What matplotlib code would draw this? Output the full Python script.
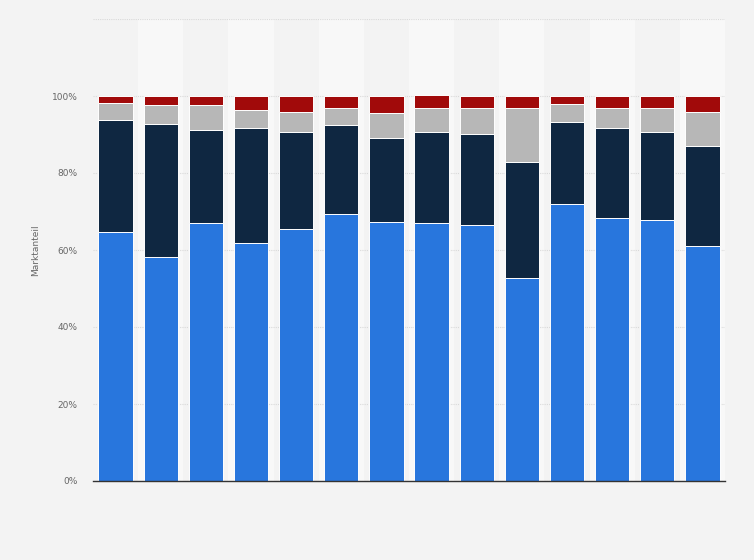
import matplotlib
matplotlib.use("Agg")
import matplotlib.pyplot as plt
import numpy as np

# data (share in %)
categories = [str(i) for i in range(1, 15)]
blue = [64.7, 58.2, 67.0, 61.8, 65.5, 69.4, 67.3, 67.0, 66.4, 52.6, 71.9, 68.4, 67.8, 61.0]
navy = [29.0, 34.4, 24.2, 30.0, 25.2, 23.1, 21.8, 23.6, 23.8, 30.3, 21.4, 23.4, 22.8, 26.0]
gray = [4.4, 5.0, 6.4, 4.6, 5.2, 4.5, 6.6, 6.4, 6.8, 13.9, 4.5, 5.2, 6.4, 8.9]
red = [1.9, 2.4, 2.4, 3.6, 4.1, 3.0, 4.3, 3.2, 3.0, 3.2, 2.2, 3.0, 3.0, 4.1]
yticks = [0, 20, 40, 60, 80, 100]
ytick_labels = ["0%", "20%", "40%", "60%", "80%", "100%"]

colors = ["#2876dd", "#0f2741", "#b7b7b7", "#a10a0a"]

fig = plt.figure(figsize=(7.54, 5.6), dpi=100)
fig.patch.set_facecolor("#f3f3f3")
ax = fig.add_axes([93/754, 1-481/560, (725-93)/754, (481-19)/560])
ax.set_facecolor("#f3f3f3")

x = np.arange(len(categories))
for i in x:
    if i % 2 == 1:
        ax.axvspan(i-0.5, i+0.5, color="#f8f8f8", zorder=0, lw=0)

bottom = np.zeros(len(categories))
for vals, c in zip([blue, navy, gray, red], colors):
    ax.bar(x, vals, bottom=bottom, width=0.76, color=c, edgecolor="white",
           linewidth=0.7, zorder=3)
    bottom += np.array(vals)

ax.set_xlim(-0.5, len(categories)-0.5)
ax.set_ylim(0, 120)
ax.set_yticks(yticks + [120])
ax.set_yticklabels(ytick_labels + [""])
ax.set_xticks([])
ax.yaxis.grid(True, linestyle=(0, (1, 1)), color="#d9d9d9", linewidth=0.8, zorder=1)
for s in ["left", "right", "top"]:
    ax.spines[s].set_visible(False)
ax.spines["bottom"].set_color("#333333")
ax.spines["bottom"].set_linewidth(1.0)
ax.spines["bottom"].set_zorder(5)
ax.tick_params(axis="y", length=0, labelsize=6.5, labelcolor="#666666", pad=11)
ax.set_ylabel("Marktanteil", fontsize=6.5, color="#666666")
ax.yaxis.set_label_coords(-0.084, 0.5)

fig.savefig("out.png", dpi=100, facecolor=fig.get_facecolor())
